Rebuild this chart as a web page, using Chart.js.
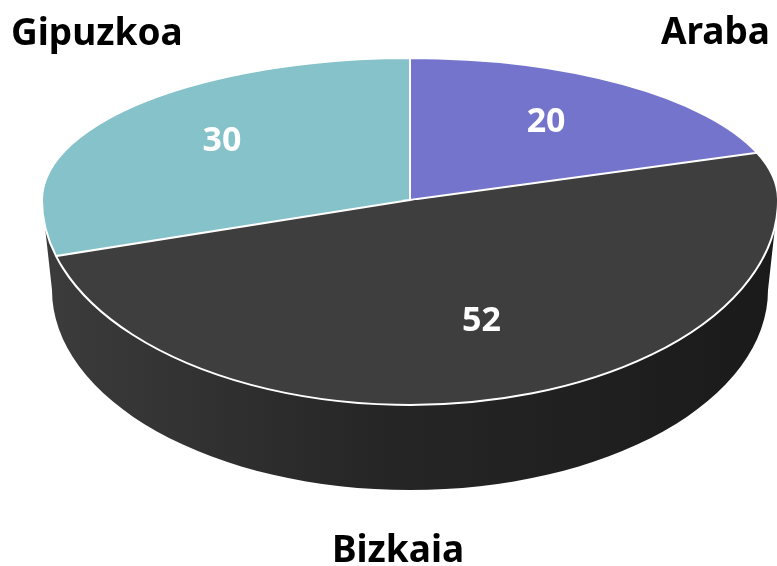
<!DOCTYPE html>
<html>
<head>
<meta charset="utf-8">
<script src="https://cdn.jsdelivr.net/npm/chart.js@4.4.1/dist/chart.umd.min.js"></script>
<style>
  html, body { margin: 0; padding: 0; background: #fff; }
  canvas { display: block; }
</style>
</head>
<body>
<canvas id="pie" width="777" height="566"></canvas>
<script>
// slices go clockwise from 12 o'clock
var categories = ['Araba', 'Bizkaia', 'Gipuzkoa'];
var values = [20, 52, 30];
var sliceColors = ['#7474cc', '#3e3e3e', '#85c2c9'];

// the tilted disc (screen pixels)
var DISC = {
    cx: 410, cy: 200,        // where slice edges meet
    rx: 368,                 // half width of the top face
    ryBack: 142, ryFront: 205,
    depth: 90, rxBase: 358, ryBase: 200
};

var LABEL_FONT = 'bold 37px "Noto Sans", "Open Sans", sans-serif';
var VALUE_FONT = 'bold 34px "Noto Sans", "Open Sans", sans-serif';

function toFace(ctx, a, front) {
    ctx.translate(DISC.cx, DISC.cy);
    ctx.scale(DISC.rx / a.outerRadius, (front ? DISC.ryFront : DISC.ryBack) / a.outerRadius);
    ctx.translate(-a.x, -a.y);
}

function toScreen(a, px, py) {
    var k = (py < a.y ? DISC.ryBack : DISC.ryFront) / a.outerRadius;
    return {
        x: DISC.cx + (px - a.x) * DISC.rx / a.outerRadius,
        y: DISC.cy + (py - a.y) * k
    };
}

var pie3d = {
    id: 'pie3d',
    beforeDatasetsDraw: function(chart) {
        var ctx = chart.ctx;
        var arcs = chart.getDatasetMeta(0).data;
        var a = arcs[0];

        // side wall of the front half
        ctx.save();
        ctx.beginPath();
        ctx.save();
        toFace(ctx, a, true);
        ctx.arc(a.x, a.y, a.outerRadius, 0, Math.PI);
        ctx.restore();
        ctx.save();
        ctx.translate(DISC.cx, DISC.cy + DISC.depth);
        ctx.scale(DISC.rxBase / a.outerRadius, DISC.ryBase / a.outerRadius);
        ctx.translate(-a.x, -a.y);
        ctx.arc(a.x, a.y, a.outerRadius, Math.PI, 0, true);
        ctx.restore();
        ctx.closePath();
        var grad = ctx.createLinearGradient(DISC.cx - DISC.rx, 0, DISC.cx + DISC.rx, 0);
        grad.addColorStop(0, '#3c3c3c');
        grad.addColorStop(0.45, '#262626');
        grad.addColorStop(1, '#1a1a1a');
        ctx.fillStyle = grad;
        ctx.fill();
        ctx.restore();

        // top face, back half and front half squeezed differently
        [false, true].forEach(function(front) {
            ctx.save();
            ctx.beginPath();
            if (front) ctx.rect(0, DISC.cy, chart.width, chart.height - DISC.cy);
            else ctx.rect(0, 0, chart.width, DISC.cy);
            ctx.clip();

            ctx.save();
            toFace(ctx, a, front);
            arcs.forEach(function(arc) { arc.draw(ctx); });
            ctx.beginPath();
            arcs.forEach(function(arc) {
                ctx.moveTo(arc.x, arc.y);
                ctx.arc(arc.x, arc.y, arc.outerRadius, arc.startAngle, arc.endAngle);
                ctx.closePath();
            });
            ctx.restore();

            ctx.strokeStyle = '#ffffff';
            ctx.lineWidth = 2;
            ctx.stroke();
            ctx.restore();
        });
        return false;
    },
    afterDraw: function(chart) {
        var ctx = chart.ctx;
        var arcs = chart.getDatasetMeta(0).data;
        ctx.save();
        ctx.textBaseline = 'middle';
        ctx.textAlign = 'center';
        ctx.font = VALUE_FONT;
        ctx.fillStyle = '#ffffff';
        arcs.forEach(function(arc, i) {
            var mid = (arc.startAngle + arc.endAngle) / 2;
            var r = arc.outerRadius * 0.64;
            var p = toScreen(arc, arc.x + Math.cos(mid) * r, arc.y + Math.sin(mid) * r);
            ctx.fillText(String(values[i]), p.x, p.y - 4);
        });

        // category names sit in the corners nearest their slice
        ctx.font = LABEL_FONT;
        ctx.fillStyle = '#000000';
        ctx.textBaseline = 'alphabetic';
        arcs.forEach(function(arc, i) {
            var mid = (arc.startAngle + arc.endAngle) / 2;
            if (Math.sin(mid) > 0.5) {
                ctx.textAlign = 'center';
                ctx.fillText(categories[i], 398, chart.height - 4);
            } else if (Math.cos(mid) > 0) {
                ctx.textAlign = 'right';
                ctx.fillText(categories[i], chart.width - 7, 44);
            } else {
                ctx.textAlign = 'left';
                ctx.fillText(categories[i], 11, 45);
            }
        });
        ctx.restore();
    }
};

var chart = new Chart(document.getElementById('pie').getContext('2d'), {
    type: 'pie',
    data: {
        labels: categories,
        datasets: [{
            data: values,
            backgroundColor: sliceColors,
            borderWidth: 0
        }]
    },
    options: {
        responsive: false,
        animation: false,
        plugins: {
            legend: { display: false },
            tooltip: { enabled: false }
        }
    },
    plugins: [pie3d]
});
</script>
</body>
</html>
